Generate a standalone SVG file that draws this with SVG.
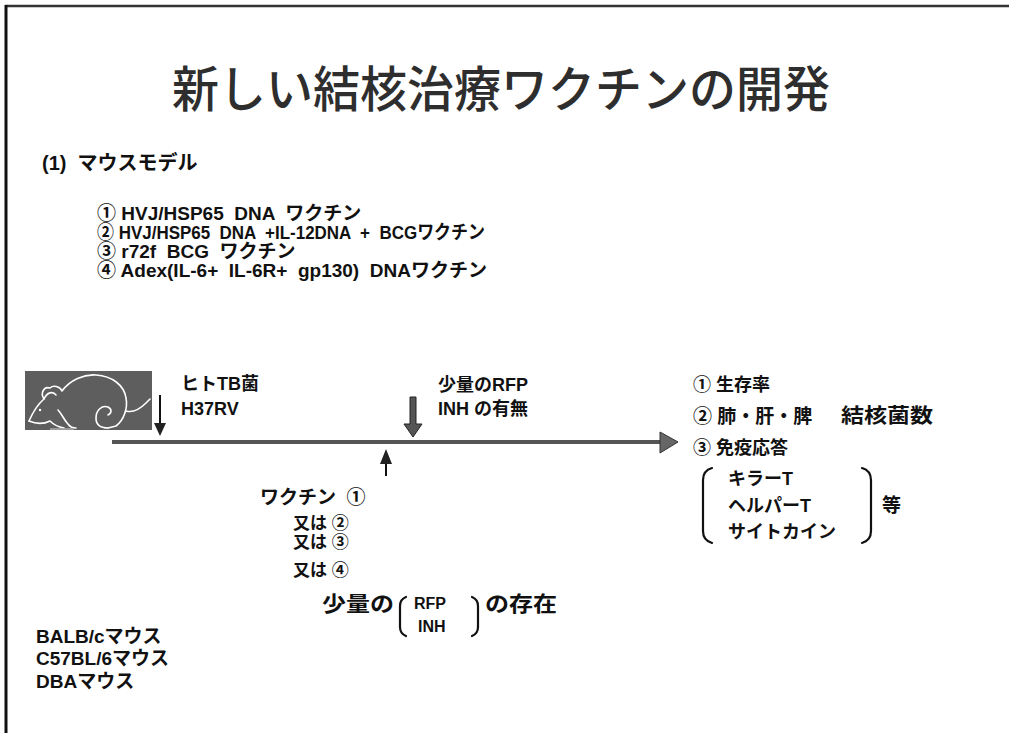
<svg xmlns="http://www.w3.org/2000/svg" width="1009" height="733" viewBox="0 0 1009 733">
  <style>
    .t { font-family: "Liberation Sans", "Noto Sans CJK JP", sans-serif; font-weight: bold; fill: #111; white-space: pre; }
    .title { font-family: "Noto Sans CJK JP", sans-serif; font-weight: 500; fill: #2e2e2e; }
    .br { fill: none; stroke: #111; stroke-width: 2.2; stroke-linecap: round; }
    .mouse { fill: none; stroke: #fff; stroke-width: 1.6; stroke-linecap: round; stroke-linejoin: round; }
  </style>
  <rect width="1009" height="733" fill="#fff"/>

  <!-- frame -->
  <g id="frame">
    <line x1="5" y1="6" x2="1009" y2="6" stroke="#333" stroke-width="2.5"/>
    <line x1="6" y1="5" x2="6" y2="733" stroke="#111" stroke-width="3"/>
  </g>

  <g id="title">
    <text class="title" x="172" y="107" font-size="49" textLength="658" lengthAdjust="spacingAndGlyphs">新しい結核治療ワクチンの開発</text>
  </g>

  <g id="vaccine-list">
    <text class="t" x="42" y="170" font-size="20">(1)  マウスモデル</text>
    <text class="t" x="97" y="220" font-size="19">① HVJ/HSP65  DNA  ワクチン</text>
    <text class="t" x="97" y="239" font-size="19" textLength="388" lengthAdjust="spacingAndGlyphs">② HVJ/HSP65  DNA  +IL-12DNA  +  BCGワクチン</text>
    <text class="t" x="97" y="258" font-size="19">③ r72f  BCG  ワクチン</text>
    <text class="t" x="97" y="277" font-size="19">④ Adex(IL-6+  IL-6R+  gp130)  DNAワクチン</text>
  </g>

  <!-- mouse picture -->
  <g id="mouse">
    <rect x="25" y="371" width="127" height="59" fill="#5e5e5e"/>
    <path class="mouse" d="M29,421 C33,412 38,404 44,399 C40,393 44,386 50,388 C53,385 60,386 62,391 C70,380 84,374 96,375 C112,376 124,385 126,398 C128,408 124,420 116,426 L108,428"/>
    <path class="mouse" d="M44,399 C47,392 53,391 56,395"/>
    <path class="mouse" d="M29,421 C36,424 44,424 50,421 C53,424 58,427 64,428"/>
    <path class="mouse" d="M58,410 C62,414 64,420 68,424 C70,427 73,428 76,428"/>
    <path class="mouse" d="M108,428 C100,428 96,424 96,418 C96,410 102,405 108,407 C112,409 112,413 108,415"/>
    <path class="mouse" d="M126,411 C133,413 140,409 146,403 C148,401 149,400 150,399"/>
    <circle cx="40" cy="410" r="1.2" fill="#fff"/>
    <line x1="50" y1="429" x2="74" y2="429" stroke="#aaa" stroke-width="1.6"/>
  </g>

  <g id="labels-infection">
    <text class="t" x="181" y="390" font-size="18">ヒトTB菌</text>
    <text class="t" x="181" y="415" font-size="18">H37RV</text>
  </g>

  <g id="labels-drug">
    <text class="t" x="438" y="391" font-size="18">少量のRFP</text>
    <text class="t" x="438" y="415" font-size="18">INH の有無</text>
  </g>

  <g id="outcomes">
    <text class="t" x="693" y="391" font-size="18">① 生存率</text>
    <text class="t" x="693" y="423" font-size="19">② 肺・肝・脾<tspan x="841" font-size="20" textLength="92" lengthAdjust="spacingAndGlyphs">結核菌数</tspan></text>
    <text class="t" x="693" y="454" font-size="18">③ 免疫応答</text>
    <path class="br" d="M712,468 C705,470 703,474 703,480 L703,531 C703,537 705,541 712,543"/>
    <text class="t" x="728" y="485" font-size="18">キラーT</text>
    <text class="t" x="728" y="512" font-size="18">ヘルパーT</text>
    <text class="t" x="728" y="538" font-size="18">サイトカイン</text>
    <path class="br" d="M862,468 C869,470 871,474 871,480 L871,531 C871,537 869,541 862,543"/>
    <text class="t" x="882" y="512" font-size="19">等</text>
  </g>

  <g id="vaccination">
    <text class="t" x="260" y="504" font-size="19">ワクチン  ①</text>
    <text class="t" x="293" y="529" font-size="17">又は ②</text>
    <text class="t" x="293" y="548" font-size="17">又は ③</text>
    <text class="t" x="293" y="576" font-size="17">又は ④</text>
  </g>

  <g id="drug-presence">
    <text class="t" x="322" y="611" font-size="21" textLength="72" lengthAdjust="spacingAndGlyphs">少量の</text>
    <path class="br" d="M406,597 C401,599 400,602 400,606 L400,627 C400,631 401,634 406,636"/>
    <text class="t" x="414" y="609" font-size="16">RFP</text>
    <text class="t" x="418" y="632" font-size="16">INH</text>
    <path class="br" d="M472,597 C477,599 478,602 478,606 L478,627 C478,631 477,634 472,636"/>
    <text class="t" x="485" y="611" font-size="21" textLength="72" lengthAdjust="spacingAndGlyphs">の存在</text>
  </g>

  <g id="strains">
    <text class="t" x="36" y="643" font-size="19">BALB/cマウス</text>
    <text class="t" x="36" y="665" font-size="19">C57BL/6マウス</text>
    <text class="t" x="36" y="688" font-size="19">DBAマウス</text>
  </g>

  <g id="connectors">
    <!-- time line -->
    <line x1="112" y1="442" x2="662" y2="442" stroke="#555" stroke-width="4"/>
    <path d="M660,432 L678,442 L660,453 Z" fill="#666" stroke="#333" stroke-width="1"/>
    <!-- infection -->
    <line x1="160" y1="395" x2="160" y2="424" stroke="#111" stroke-width="2"/>
    <path d="M154,423 L166,423 L160,436 Z" fill="#222"/>
    <!-- drug treatment -->
    <path d="M410,397 L416,397 L416,424 L422,424 L413,437 L404,424 L410,424 Z" fill="#555" stroke="#222" stroke-width="1"/>
    <!-- vaccination -->
    <line x1="386" y1="476" x2="386" y2="462" stroke="#111" stroke-width="2"/>
    <path d="M380,464 L392,464 L386,449 Z" fill="#222"/>
  </g>
</svg>
